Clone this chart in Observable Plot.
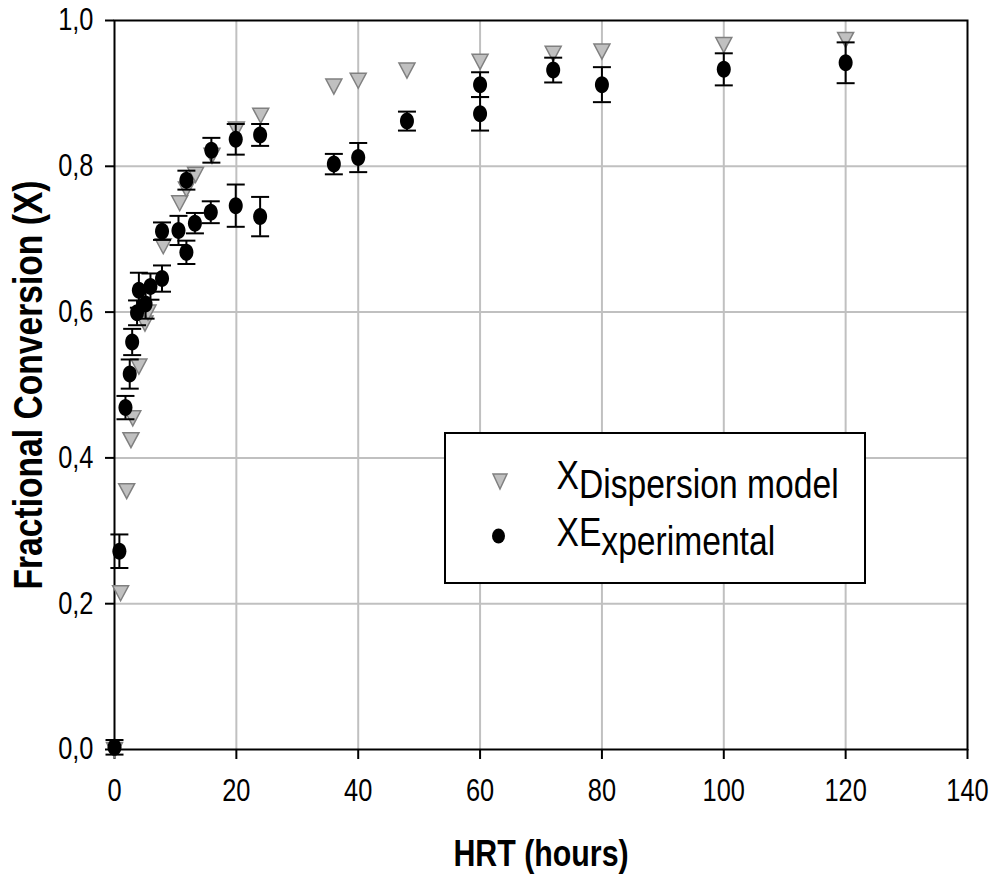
<!DOCTYPE html>
<html>
<head>
<meta charset="utf-8">
<script src="https://cdn.jsdelivr.net/npm/d3@7"></script>
<script src="https://cdn.jsdelivr.net/npm/@observablehq/plot@0.6"></script>
<style>
  body { margin: 0; background: #fff; }
  #wrap { position: relative; width: 992px; height: 877px; background: #fff; }
  #legend { position: absolute; left: 444px; top: 432px; }
</style>
</head>
<body>
<div id="wrap"></div>
<script>
// ---- data ----
const modelHRT = [0, 1, 2, 2.7, 3, 4, 5, 5.5, 8, 10.7, 11.8, 13.3, 16, 20, 24, 36, 40, 48, 60, 72, 80, 100, 120];
const modelX   = [0, 0.215, 0.355, 0.425, 0.455, 0.526, 0.585, 0.6, 0.691, 0.75, 0.769, 0.789, 0.815, 0.851, 0.87, 0.91, 0.918, 0.932, 0.944, 0.955, 0.958, 0.967, 0.974];

const expHRT = [0, 0.8, 1.8, 2.5, 2.9, 3.7, 4, 5.1, 5.9, 7.8, 7.8, 10.5, 11.8, 11.8, 13.2, 15.8, 15.9, 19.9, 19.9, 23.9, 23.9, 36, 40, 48, 60, 60, 72, 80, 100, 120];
const expX   = [0.003, 0.272, 0.469, 0.515, 0.559, 0.599, 0.63, 0.611, 0.635, 0.646, 0.711, 0.712, 0.682, 0.781, 0.722, 0.737, 0.822, 0.746, 0.837, 0.731, 0.843, 0.803, 0.812, 0.862, 0.912, 0.872, 0.932, 0.912, 0.933, 0.942];
const expErr = [0.01, 0.023, 0.016, 0.02, 0.018, 0.017, 0.024, 0.02, 0.018, 0.018, 0.012, 0.02, 0.016, 0.013, 0.014, 0.015, 0.017, 0.029, 0.021, 0.027, 0.015, 0.014, 0.02, 0.013, 0.017, 0.023, 0.017, 0.024, 0.022, 0.028];

const xTicks = [0, 20, 40, 60, 80, 100, 120, 140];
const yTicks = [0, 0.2, 0.4, 0.6, 0.8, 1.0];
const xTitle = "HRT (hours)";
const yTitle = "Fractional Conversion (X)";
const legendMain = ["X", "XE"];
const legendSub  = ["Dispersion model", "xperimental"];

// ---- font detection ----
function fontAvailable(name) {
  const c = document.createElement("canvas").getContext("2d");
  const t = "Dispersion model 0123456789";
  c.font = "40px monospace";
  const w0 = c.measureText(t).width;
  c.font = `40px '${name}', monospace`;
  return Math.abs(c.measureText(t).width - w0) > 0.5;
}
const narrow = fontAvailable("Liberation Sans Narrow");
const FONT = narrow ? "'Liberation Sans Narrow', 'Arial Narrow', sans-serif" : "'Liberation Sans', Arial, sans-serif";
const SX = narrow ? 1 : 0.82;

const model = modelHRT.map((x, i) => ({x, y: modelX[i]}));
const exp = expHRT.map((x, i) => ({x, y: expX[i], e: expErr[i]}));

// ---- custom symbols ----
const ellipse = {draw(ctx) {
  const rx = 7, ry = 8.5, k = 0.5523;
  ctx.moveTo(rx, 0);
  ctx.bezierCurveTo(rx, ry * k, rx * k, ry, 0, ry);
  ctx.bezierCurveTo(-rx * k, ry, -rx, ry * k, -rx, 0);
  ctx.bezierCurveTo(-rx, -ry * k, -rx * k, -ry, 0, -ry);
  ctx.bezierCurveTo(rx * k, -ry, rx, -ry * k, rx, 0);
  ctx.closePath();
}};
const downTri = {draw(ctx) { ctx.moveTo(-8, -7); ctx.lineTo(8, -7); ctx.lineTo(0, 8); ctx.closePath(); }};
const cap = {draw(ctx) { ctx.moveTo(-9, 0); ctx.lineTo(9, 0); }};

const gridStyle = {stroke: "#c0c0c0", strokeOpacity: 1, strokeWidth: 2};

const chart = Plot.plot({
  width: 992,
  height: 877,
  marginLeft: 114,
  marginRight: 25,
  marginTop: 20,
  marginBottom: 128,
  x: {domain: [0, 140]},
  y: {domain: [0, 1]},
  style: {fontFamily: FONT, background: "white", color: "black"},
  marks: [
    Plot.gridX({ticks: xTicks.filter(t => t > 0 && t < 140), ...gridStyle}),
    Plot.gridY({ticks: yTicks.filter(t => t > 0 && t < 1), ...gridStyle}),
    Plot.frame({stroke: "black", strokeWidth: 2}),
    Plot.axisX({ticks: xTicks, tickSize: 10, tickPadding: 19, fontSize: 31, label: null, strokeWidth: 2, tickFormat: d => String(d)}),
    Plot.axisY({ticks: yTicks, tickSize: 9, tickPadding: 12, fontSize: 31, label: null, strokeWidth: 2, tickFormat: d => d.toFixed(1).replace(".", ",")}),
    Plot.dot(model, {x: "x", y: "y", symbol: downTri, fill: "#c0c0c0", stroke: "#808080", strokeWidth: 1.5}),
    Plot.ruleX(exp, {x: "x", y1: d => d.y - d.e, y2: d => d.y + d.e, stroke: "black", strokeWidth: 2}),
    Plot.dot(exp, {x: "x", y: d => d.y - d.e, symbol: cap, fill: "none", stroke: "black", strokeWidth: 2}),
    Plot.dot(exp, {x: "x", y: d => d.y + d.e, symbol: cap, fill: "none", stroke: "black", strokeWidth: 2}),
    Plot.dot(exp, {x: "x", y: "y", symbol: ellipse, fill: "black", stroke: "none"}),
    Plot.text([xTitle], {frameAnchor: "bottom", dy: 90, lineAnchor: "top", textAnchor: "middle", fontSize: 37, fontWeight: "bold", fill: "black"}),
    Plot.text([yTitle], {frameAnchor: "left", dx: -86, rotate: -90, textAnchor: "middle", lineAnchor: "middle", fontSize: 41, fontWeight: "bold", fill: "black"})
  ]
});

// fallback horizontal condensation when no narrow font exists
if (SX !== 1) {
  chart.querySelectorAll("text").forEach(t => {
    const tr = t.getAttribute("transform") || "";
    t.setAttribute("transform", tr + ` scale(${SX},1)`);
  });
}

const wrap = document.getElementById("wrap");
wrap.appendChild(chart);

// ---- legend (inset box) ----
const NS = "http://www.w3.org/2000/svg";
const lg = document.createElementNS(NS, "svg");
lg.setAttribute("id", "legend");
lg.setAttribute("width", 423);
lg.setAttribute("height", 153);
lg.innerHTML = `
  <rect x="1" y="1" width="420" height="150" fill="white" stroke="black" stroke-width="2"/>
  <path d="M49,42 L63,42 L56,57 Z" fill="#c0c0c0" stroke="#808080" stroke-width="1.5"/>
  <ellipse cx="54.5" cy="104" rx="6.5" ry="7.5" fill="black"/>
  <g transform="translate(112.5,0) scale(${SX},1)" font-family="${FONT.replace(/"/g, "'")}" font-size="41" fill="black">
    <text x="0" y="57">${legendMain[0]}<tspan dy="9">${legendSub[0]}</tspan></text>
    <text x="0" y="114">${legendMain[1]}<tspan dy="9">${legendSub[1]}</tspan></text>
  </g>`;
wrap.appendChild(lg);
</script>
</body>
</html>
